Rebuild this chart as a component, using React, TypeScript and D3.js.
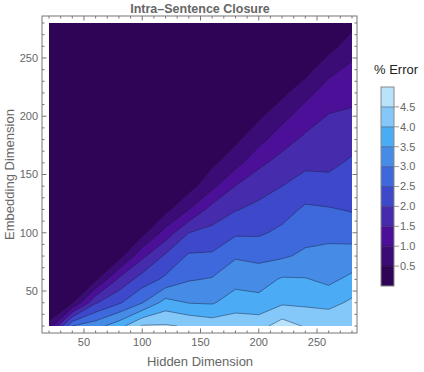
import React from "react";
import * as d3 from "d3";

// grid axes
const hiddenDims = [20, 40, 60, 80, 100, 120, 140, 160, 180, 200, 220, 240, 260, 280];
const embeddingDims = [20, 40, 60, 80, 100, 120, 140, 160, 180, 200, 220, 240, 260, 280];

// % error, one row per embedding dimension (bottom -> top), one column per hidden dimension
const errorRows = [
  [0.6, 3.0, 3.3, 3.8, 4.55, 4.55, 4.45, 4.3, 4.3, 4.3, 4.75, 4.45, 4.45, 4.45],
  [0.15, 0.45, 1.95, 2.43, 2.98, 3.7, 3.48, 3.45, 3.76, 3.68, 3.92, 3.9, 3.82, 4.1],
  [0.1, 0.15, 0.4, 1.6, 2.23, 2.6, 2.96, 3.04, 3.31, 3.26, 3.56, 3.53, 3.39, 3.62],
  [0.1, 0.1, 0.15, 0.3, 1.38, 2.09, 2.57, 2.58, 2.95, 2.88, 2.93, 3.1, 3.15, 3.2],
  [0.1, 0.1, 0.1, 0.15, 0.35, 1.2, 2.0, 2.14, 2.42, 2.43, 2.61, 2.82, 2.87, 2.81],
  [0.1, 0.1, 0.1, 0.1, 0.15, 0.35, 0.99, 1.7, 1.97, 2.13, 2.3, 2.58, 2.54, 2.46],
  [0.1, 0.1, 0.1, 0.1, 0.1, 0.15, 0.3, 0.87, 1.51, 1.8, 2.0, 2.23, 2.16, 2.26],
  [0.1, 0.1, 0.1, 0.1, 0.1, 0.1, 0.15, 0.4, 0.81, 1.39, 1.68, 1.88, 1.89, 2.07],
  [0.1, 0.1, 0.1, 0.1, 0.1, 0.1, 0.1, 0.15, 0.4, 0.83, 1.3, 1.6, 1.71, 1.84],
  [0.1, 0.1, 0.1, 0.1, 0.1, 0.1, 0.1, 0.1, 0.15, 0.42, 0.84, 1.26, 1.53, 1.59],
  [0.1, 0.1, 0.1, 0.1, 0.1, 0.1, 0.1, 0.1, 0.1, 0.15, 0.38, 0.84, 1.24, 1.35],
  [0.1, 0.1, 0.1, 0.1, 0.1, 0.1, 0.1, 0.1, 0.1, 0.1, 0.15, 0.3, 0.86, 1.12],
  [0.1, 0.1, 0.1, 0.1, 0.1, 0.1, 0.1, 0.1, 0.1, 0.1, 0.1, 0.15, 0.3, 0.78],
  [0.1, 0.1, 0.1, 0.1, 0.1, 0.1, 0.1, 0.1, 0.1, 0.1, 0.1, 0.1, 0.15, 0.33],
];

// contour levels + legend
const levels = [0.5, 1.0, 1.5, 2.0, 2.5, 3.0, 3.5, 4.0, 4.5];
const legendTicks = ["0.5", "1.0", "1.5", "2.0", "2.5", "3.0", "3.5", "4.0", "4.5"];
const bandColors = [
  "#2f0456", "#3b0b76", "#4c0f98", "#462cac", "#3e48cb",
  "#3d69dc", "#468be6", "#4babf5", "#84c7f9", "#b9e3fb",
];

// axis ticks
const xTicks = [50, 100, 150, 200, 250];
const yTicks = [50, 100, 150, 200, 250];

const font = "'Liberation Sans', Arial, sans-serif";
const gray = "#666";

export default function App() {
  const W = 424, H = 372;
  const frame = { left: 42, right: 357, top: 16, bottom: 333 };

  const x = d3.scaleLinear().domain([20, 280]).range([49, 352]);
  const y = d3.scaleLinear().domain([20, 280]).range([326, 23]);

  const nx = hiddenDims.length, ny = embeddingDims.length;
  // d3.contours puts sample i at i + 0.5
  const gx = d3.scaleLinear().domain([0.5, nx - 0.5]).range([x(hiddenDims[0]), x(hiddenDims[nx - 1])]);
  const gy = d3.scaleLinear().domain([0.5, ny - 0.5]).range([y(embeddingDims[0]), y(embeddingDims[ny - 1])]);

  const contours = d3.contours().size([nx, ny]).thresholds(levels)(errorRows.flat());
  const path = d3.geoPath(d3.geoTransform({
    point: function (px, py) { this.stream.point(gx(px), gy(py)); }
  }));

  const minorX = d3.range(20, 281, 10);
  const minorY = d3.range(20, 281, 10);

  const legend = d3.scaleLinear().domain([0, 5]).range([286, 87]);
  const barX = 381, barW = 13;

  return (
    <svg width={W} height={H} style={{ position: "absolute", left: 0, top: 0 }} fontFamily={font}>
      <defs>
        <clipPath id="plotClip">
          <rect x={x(20)} y={y(280)} width={x(280) - x(20)} height={y(20) - y(280)} />
        </clipPath>
      </defs>
      <rect width={W} height={H} fill="#fff" />

      <text x={200} y={13} textAnchor="middle" fontSize={12.5} fontWeight="bold" fill={gray}>
        Intra–Sentence Closure
      </text>

      {/* contour bands */}
      <g clipPath="url(#plotClip)">
        <rect x={x(20)} y={y(280)} width={x(280) - x(20)} height={y(20) - y(280)} fill={bandColors[0]} />
        {contours.map((c, i) => (
          <path key={"f" + i} d={path(c)} fill={bandColors[i + 1]} stroke="none" />
        ))}
        {contours.map((c, i) => (
          <path key={"s" + i} d={path(c)} fill="none" stroke="#1a1a33" strokeOpacity={0.55} strokeWidth={0.8} />
        ))}
      </g>

      {/* frame */}
      <rect x={frame.left} y={frame.top} width={frame.right - frame.left} height={frame.bottom - frame.top}
        fill="none" stroke="#777" strokeWidth={1} />
      {minorX.map(v => {
        const len = v % 50 === 0 ? 4.5 : 2.5;
        return (
          <g key={"tx" + v} stroke="#777">
            <line x1={x(v)} x2={x(v)} y1={frame.bottom} y2={frame.bottom - len} />
            <line x1={x(v)} x2={x(v)} y1={frame.top} y2={frame.top + len} />
          </g>
        );
      })}
      {minorY.map(v => {
        const len = v % 50 === 0 ? 4.5 : 2.5;
        return (
          <g key={"ty" + v} stroke="#777">
            <line y1={y(v)} y2={y(v)} x1={frame.left} x2={frame.left + len} />
            <line y1={y(v)} y2={y(v)} x1={frame.right} x2={frame.right - len} />
          </g>
        );
      })}
      {xTicks.map(v => (
        <text key={"lx" + v} x={x(v)} y={346} textAnchor="middle" fontSize={11} fill={gray}>{v}</text>
      ))}
      {yTicks.map(v => (
        <text key={"ly" + v} x={38} y={y(v)} dy="0.35em" textAnchor="end" fontSize={11} fill={gray}>{v}</text>
      ))}

      <text x={200} y={366} textAnchor="middle" fontSize={13} fill={gray}>Hidden Dimension</text>
      <text transform={`translate(13.5,${y(150)}) rotate(-90)`} textAnchor="middle" fontSize={13} fill={gray}>
        Embedding Dimension
      </text>

      {/* legend */}
      <text x={396} y={74} textAnchor="middle" fontSize={13} fill="#222">% Error</text>
      {bandColors.map((c, i) => (
        <rect key={"b" + i} x={barX} y={legend((i + 1) * 0.5)} width={barW}
          height={legend(i * 0.5) - legend((i + 1) * 0.5)} fill={c} />
      ))}
      {legendTicks.map(t => (
        <g key={"lt" + t}>
          <line x1={barX} x2={barX + barW} y1={legend(+t)} y2={legend(+t)} stroke="#000" strokeOpacity={0.35} />
          <line x1={barX + barW} x2={barX + barW + 5} y1={legend(+t)} y2={legend(+t)} stroke="#999" />
          <text x={barX + barW + 6} y={legend(+t)} dy="0.35em" fontSize={11} fill={gray}>{t}</text>
        </g>
      ))}
      <rect x={barX} y={legend(5)} width={barW} height={legend(0) - legend(5)} fill="none" stroke="#888" />
    </svg>
  );
}
